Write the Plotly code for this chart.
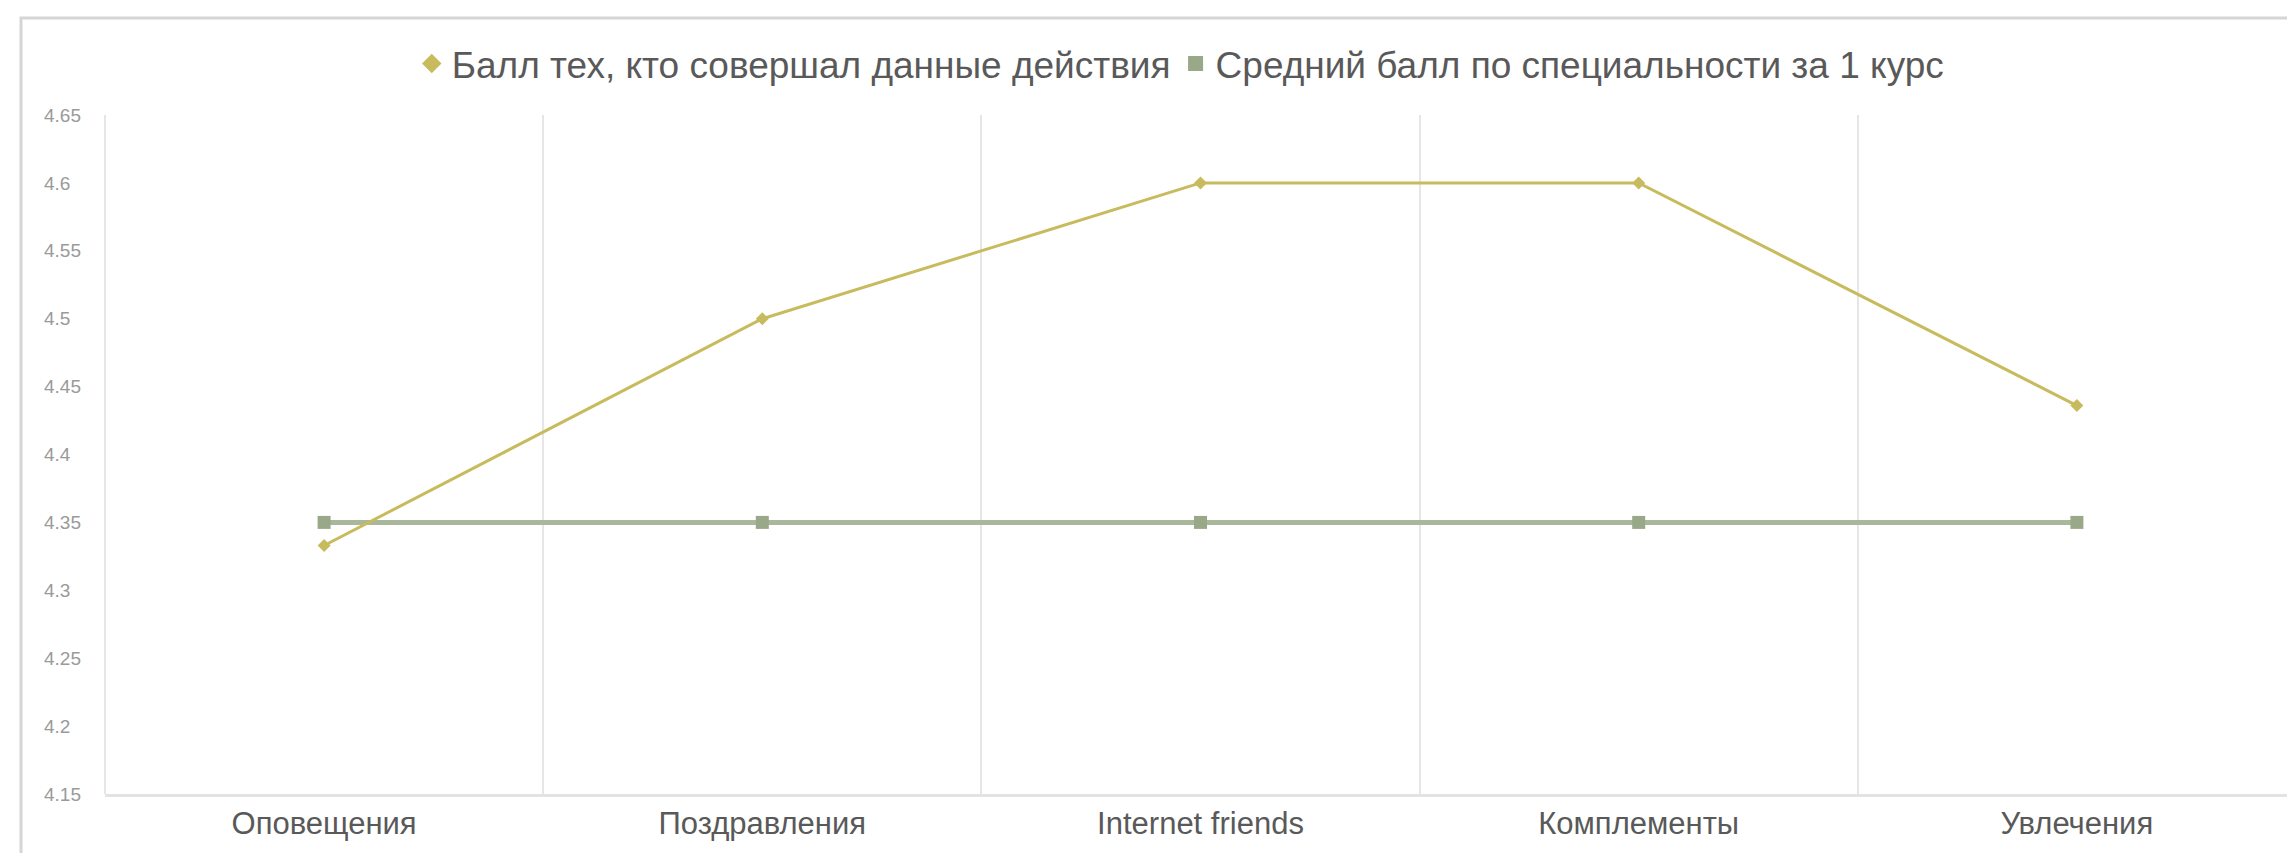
import plotly.graph_objects as go

categories = ["Оповещения", "Поздравления", "Internet friends", "Комплементы", "Увлечения"]
series1_name = "Балл тех, кто совершал данные действия"
series1 = [4.333, 4.5, 4.6, 4.6, 4.436]
series2_name = "Средний балл по специальности за 1 курс"
series2 = [4.35, 4.35, 4.35, 4.35, 4.35]
y_ticks = [4.15, 4.2, 4.25, 4.3, 4.35, 4.4, 4.45, 4.5, 4.55, 4.6, 4.65]
y_tick_labels = ["4.15", "4.2", "4.25", "4.3", "4.35", "4.4", "4.45", "4.5", "4.55", "4.6", "4.65"]

c1 = "#c8bb5e"
c2 = "#a9b89a"
c2m = "#98a888"

W, H = 2295, 853
ml, mr, mt, mb = 35, 7, 107, 67
plot_w = W - ml - mr
plot_h = H - mt - mb
x_left = 97

fig = go.Figure()
fig.add_trace(go.Scatter(x=categories, y=series2, mode="lines+markers",
                         line=dict(color=c2, width=5),
                         marker=dict(symbol="square", size=13, color=c2m),
                         showlegend=False))
fig.add_trace(go.Scatter(x=categories, y=series1, mode="lines+markers",
                         line=dict(color=c1, width=3),
                         marker=dict(symbol="diamond", size=10, color=c1),
                         showlegend=False))
# legend entries (marker only)
fig.add_trace(go.Scatter(x=[None], y=[None], mode="markers", name=series1_name,
                         marker=dict(symbol="diamond", size=15, color=c1)))
fig.add_trace(go.Scatter(x=[None], y=[None], mode="markers", name=series2_name,
                         marker=dict(symbol="square", size=15, color=c2m)))

fig.update_layout(
    width=W, height=H,
    margin=dict(l=ml, r=mr, t=mt, b=mb),
    paper_bgcolor="white", plot_bgcolor="white",
    font=dict(family="Liberation Sans, Arial, sans-serif", color="#595959"),
    showlegend=True,
    legend=dict(orientation="h", x=0.505, xanchor="center", y=1.0 + (mt - 56) / plot_h,
                yanchor="middle", font=dict(size=37, color="#595959"),
                itemwidth=30, tracegroupgap=0),
    xaxis=dict(type="category", domain=[(x_left - ml) / plot_w, 1],
               range=[-0.5, 4.5], tickson="boundaries",
               showgrid=True, gridcolor="#e6e6e6", gridwidth=2,
               showline=True, linecolor="#e3e3e3", linewidth=3,
               ticks="", tickfont=dict(size=31, color="#595959"),
               ticklabelstandoff=0, zeroline=False),
    yaxis=dict(range=[4.15, 4.65], tickvals=y_ticks, ticktext=y_tick_labels,
               side="right", anchor="free", position=0,
               showgrid=False, showline=False, zeroline=False, ticks="",
               tickfont=dict(size=19, color="#9a9a9a")),
    shapes=[
        dict(type="line", xref="x domain", yref="y domain", x0=0, x1=0, y0=0, y1=1,
             line=dict(color="#e6e6e6", width=2)),
        dict(type="rect", xref="paper", yref="paper",
             x0=(13 - ml) / plot_w, x1=(2290 - ml) / plot_w,
             y0=-0.3, y1=(H - mb - 10) / plot_h,
             line=dict(color="#d6d6d6", width=3), layer="below"),
    ],
)

fig.write_html("out.html")
